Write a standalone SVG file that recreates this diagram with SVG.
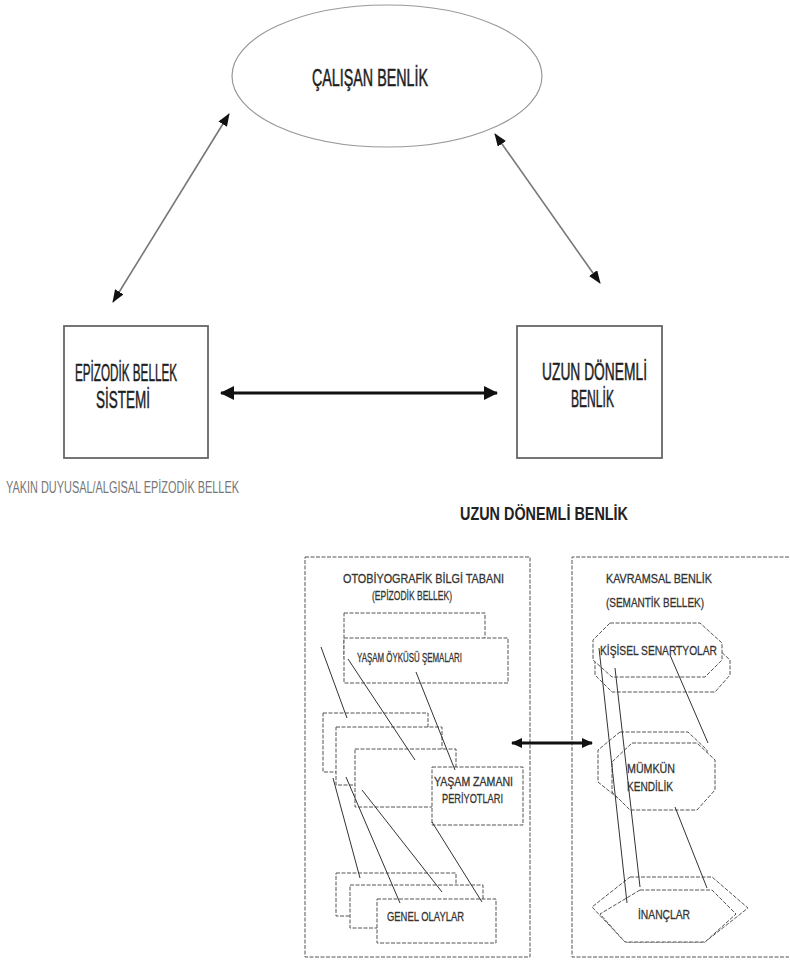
<svg xmlns="http://www.w3.org/2000/svg" width="790" height="962" viewBox="0 0 790 962">
<style>
.t{font-family:"Liberation Sans",Arial,sans-serif}
.big{font-size:23px;fill:#1e1e1e;stroke:#1e1e1e;stroke-width:0.5}
.sm{font-size:13.5px;fill:#333;stroke:#333;stroke-width:0.3}
.box{fill:#fff;stroke:#666;stroke-width:1.8}
.dash{fill:#fff;stroke:#555;stroke-width:1;stroke-dasharray:4 1.5}
.pan{fill:none;stroke:#555;stroke-width:1;stroke-dasharray:4 1.5}
.ln{stroke:#333;stroke-width:1;fill:none}
.thin{stroke:#777;stroke-width:1.6;fill:none}
.thick{stroke:#111;stroke-width:3;fill:none}
</style>
<defs>
<marker id="ah" viewBox="0 0 13 10" refX="12" refY="5" markerWidth="13" markerHeight="10" markerUnits="userSpaceOnUse" orient="auto-start-reverse"><path d="M0,0 L13,5 L0,10 z" fill="#111"/></marker>
<marker id="ah2" viewBox="0 0 14 14" refX="13" refY="7" markerWidth="14" markerHeight="14" markerUnits="userSpaceOnUse" orient="auto-start-reverse"><path d="M0,0 L14,7 L0,14 z" fill="#111"/></marker>
<marker id="ah3" viewBox="0 0 11 10" refX="10" refY="5" markerWidth="11" markerHeight="10" markerUnits="userSpaceOnUse" orient="auto-start-reverse"><path d="M0,0 L11,5 L0,10 z" fill="#111"/></marker>
</defs>
<rect width="790" height="962" fill="#fff"/>

<g id="calisan-benlik">
<ellipse cx="387" cy="76" rx="155" ry="71" fill="#fff" stroke="#999" stroke-width="1.2"/>
<text class="t big" x="312" y="86" textLength="116" lengthAdjust="spacingAndGlyphs">ÇALIŞAN BENLİK</text>
</g>

<g id="epizodik-bellek-sistemi">
<rect class="box" x="64" y="326" width="144" height="132"/>
<text class="t big" x="75" y="381" textLength="102" lengthAdjust="spacingAndGlyphs">EPİZODİK BELLEK</text>
<text class="t big" x="96" y="408" textLength="54" lengthAdjust="spacingAndGlyphs">SİSTEMİ</text>
</g>

<g id="uzun-donemli-benlik">
<rect class="box" x="517" y="326" width="145" height="132"/>
<text class="t big" x="542" y="380" textLength="105" lengthAdjust="spacingAndGlyphs">UZUN DÖNEMLİ</text>
<text class="t big" x="571" y="407" textLength="43" lengthAdjust="spacingAndGlyphs">BENLİK</text>
</g>

<g id="yakin-label">
<text class="t" x="6" y="493" font-size="16" fill="#777" textLength="233" lengthAdjust="spacingAndGlyphs">YAKIN DUYUSAL/ALGISAL EPİZODİK BELLEK</text>
</g>

<g id="title">
<text class="t" x="460" y="520" font-size="18" font-weight="bold" fill="#222" textLength="168" lengthAdjust="spacingAndGlyphs">UZUN DÖNEMLİ BENLİK</text>
</g>

<g id="otobiyografik-panel">
<rect class="pan" x="305" y="557" width="225" height="400"/>
<text class="t sm" x="343" y="583" textLength="161" lengthAdjust="spacingAndGlyphs">OTOBİYOGRAFİK BİLGİ TABANI</text>
<text class="t sm" x="372" y="600" textLength="80" lengthAdjust="spacingAndGlyphs">(EPİZODİK BELLEK)</text>
</g>

<g id="yasam-oykusu">
<rect class="dash" x="344" y="613" width="141" height="45"/>
<rect class="dash" x="344" y="638" width="164" height="45"/>
<text class="t sm" x="357" y="662" textLength="105" lengthAdjust="spacingAndGlyphs">YAŞAM ÖYKÜSÜ ŞEMALARI</text>
</g>

<g id="yasam-zamani">
<rect class="dash" x="323" y="713" width="105" height="59"/>
<rect class="dash" x="336" y="727" width="106" height="58"/>
<rect class="dash" x="355" y="749" width="101" height="58"/>
<rect class="dash" x="432" y="767" width="91" height="58"/>
<text class="t sm" x="434" y="786" textLength="79" lengthAdjust="spacingAndGlyphs">YAŞAM ZAMANI</text>
<text class="t sm" x="442" y="803" textLength="61" lengthAdjust="spacingAndGlyphs">PERİYOTLARI</text>
</g>

<g id="genel-olaylar">
<rect class="dash" x="336" y="873" width="120" height="43"/>
<rect class="dash" x="350" y="885" width="133" height="43"/>
<rect class="dash" x="377" y="899" width="119" height="44"/>
<text class="t sm" x="387" y="921" textLength="77" lengthAdjust="spacingAndGlyphs">GENEL OLAYLAR</text>
</g>

<g id="kavramsal-panel">
<path class="pan" d="M789,557 H572 V957 H789"/>
<text class="t sm" x="606" y="583" textLength="106" lengthAdjust="spacingAndGlyphs">KAVRAMSAL BENLİK</text>
<text class="t sm" x="606" y="607" textLength="98" lengthAdjust="spacingAndGlyphs">(SEMANTİK BELLEK)</text>
</g>

<g id="kisisel-senaryolar">
<polygon class="dash" points="612,638 706,638 730,660 730,675 715,692 612,692 595,675 595,655"/>
<polygon class="dash" points="610,623 700,623 722,643 722,660 705,677 612,677 593,660 593,640"/>
<text class="t sm" x="600" y="655" textLength="117" lengthAdjust="spacingAndGlyphs">KİŞİSEL SENARTYOLAR</text>
</g>

<g id="mumkun-kendilik">
<polygon class="dash" points="620,732 688,732 707,750 707,795 692,808 630,808 598,782 598,750"/>
<polygon class="dash" points="632,743 697,743 715,760 715,790 697,810 630,810 612,792 612,762"/>
<text class="t sm" x="627" y="773" textLength="48" lengthAdjust="spacingAndGlyphs">MÜMKÜN</text>
<text class="t sm" x="627" y="791" textLength="46" lengthAdjust="spacingAndGlyphs">KENDİLİK</text>
</g>

<g id="inanclar">
<polygon class="dash" points="630,877 712,877 748,908 705,942 625,942 592,907"/>
<polygon class="dash" points="640,890 712,890 736,914 705,942 625,942 600,914"/>
<text class="t sm" x="638" y="919" textLength="52" lengthAdjust="spacingAndGlyphs">İNANÇLAR</text>
</g>

<g id="connectors">
<line class="thin" x1="113" y1="302" x2="229" y2="114" marker-start="url(#ah)" marker-end="url(#ah)"/>
<line class="thin" x1="495" y1="134" x2="600" y2="283" marker-start="url(#ah)" marker-end="url(#ah)"/>
<line class="thick" x1="221" y1="393" x2="497" y2="393" marker-start="url(#ah2)" marker-end="url(#ah2)"/>
<line class="thick" x1="512" y1="743" x2="592" y2="743" marker-start="url(#ah3)" marker-end="url(#ah3)"/>
<line class="ln" x1="321" y1="647" x2="347" y2="718"/>
<line class="ln" x1="348" y1="659" x2="415" y2="760"/>
<line class="ln" x1="416" y1="672" x2="455" y2="770"/>
<line class="ln" x1="333" y1="778" x2="360" y2="878"/>
<line class="ln" x1="346" y1="777" x2="400" y2="903"/>
<line class="ln" x1="362" y1="790" x2="442" y2="892"/>
<line class="ln" x1="432" y1="822" x2="482" y2="902"/>
<line class="ln" x1="599" y1="648" x2="627" y2="903"/>
<line class="ln" x1="615" y1="668" x2="640" y2="887"/>
<line class="ln" x1="670" y1="655" x2="708" y2="743"/>
<line class="ln" x1="675" y1="807" x2="707" y2="888"/>
</g>
</svg>
